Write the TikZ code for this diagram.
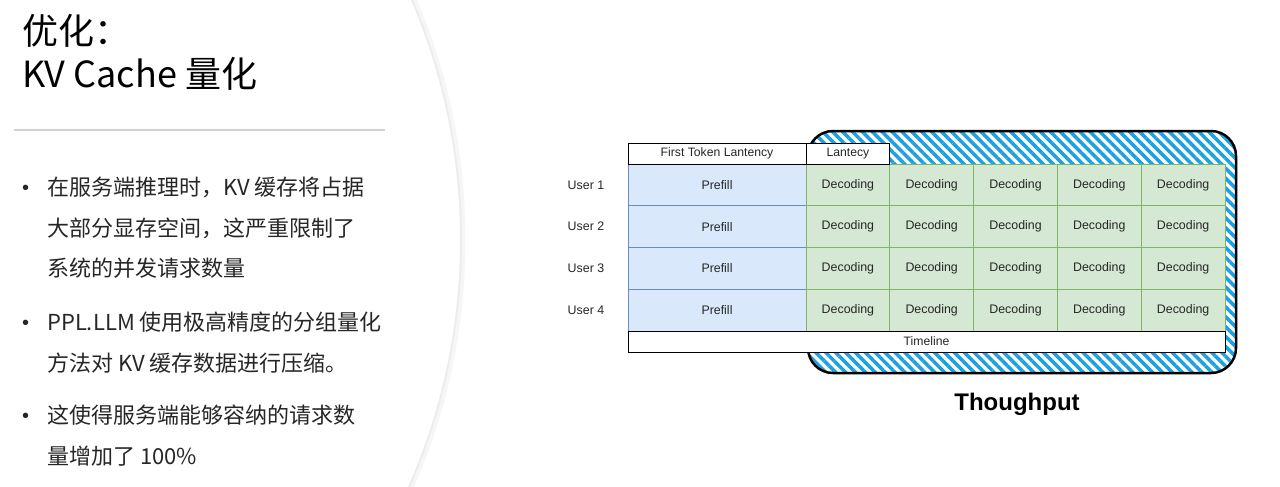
\documentclass[tikz,border=0pt]{standalone}
\usepackage{fontspec}
\setmainfont{Liberation Sans}
\newfontfamily\cjk{Noto Sans CJK SC}
\usetikzlibrary{patterns.meta}
\definecolor{prefillfill}{HTML}{DAE8FC}
\definecolor{prefillline}{HTML}{6C8EBF}
\definecolor{decodefill}{HTML}{D5E8D4}
\definecolor{decodeline}{HTML}{82B366}
\definecolor{stripeblue}{HTML}{1BA1E2}
\definecolor{bodytext}{HTML}{262626}
\tikzset{
  cell/.style={minimum height=41.75pt, inner sep=0pt, line width=1pt, text=black!85, font=\fontsize{12.4}{14}\selectfont},
  prefill/.style={cell, draw=prefillline, fill=prefillfill, minimum width=178pt},
  decode/.style={cell, draw=decodeline, fill=decodefill, minimum width=83.8pt},
  hdr/.style={cell, draw=black, fill=white, minimum height=21pt, font=\fontsize{12.2}{14}\selectfont},
  user/.style={cell, draw=none, fill=none},
  title/.style={anchor=base west, inner sep=0pt, font=\cjk\fontsize{36}{40}\selectfont},
  body/.style={anchor=base west, inner sep=0pt, text=bodytext, font=\cjk\fontsize{22}{26}\selectfont},
  dot/.style={body, font=\fontsize{20}{24}\selectfont},
}
\begin{document}
\begin{tikzpicture}[x=1pt,y=-1pt]
  \useasboundingbox (0,0) rectangle (1280,487);
  \begin{scope}
    \clip (0,0) rectangle (1280,487);
    \draw[gray!7, line width=5pt] (-150,240) circle[radius=613pt];
    \draw[gray!14, line width=2pt] (-150,240) circle[radius=611pt];
  \end{scope}
  \draw[gray!35, line width=2pt] (14,129.5) -- (385,129.5);
  \node[title] (t1) at (22,45) {优化：};
  \node[title] (t2) at (22,88) {KV Cache 量化};
  \foreach \y in {195,330,423}
    \node[dot] (b\y) at (22,\y-1) {•};
  \node[body] (l1) at (47,195) {在服务端推理时，KV 缓存将占据};
  \node[body] (l2) at (47,236) {大部分显存空间，这严重限制了};
  \node[body] (l3) at (47,276) {系统的并发请求数量};
  \node[body] (l4) at (47,330) {PPL.LLM 使用极高精度的分组量化};
  \node[body] (l5) at (47,371) {方法对 KV 缓存数据进行压缩。};
  \node[body] (l6) at (47,423) {这使得服务端能够容纳的请求数};
  \node[body] (l7) at (47,464) {量增加了 100\%};
  \node[draw, line width=2.5pt, rounded corners=25pt, minimum width=428pt, minimum height=242pt,
    pattern={Lines[angle=-45,distance=7pt,line width=3.5pt]}, pattern color=stripeblue] (tp) at (1022,252) {};
  \foreach \r in {1,...,4} {
    \pgfmathsetmacro\yc{164+41.75*(\r-0.5)}
    \node[user] (u\r) at (586,\yc) {User \r};
    \node[prefill] (p\r) at (717,\yc) {Prefill};
    \foreach \c in {1,...,5} {
      \pgfmathsetmacro\xc{806+83.8*(\c-0.5)}
      \node[decode] (d\r\c) at (\xc,\yc) {Decoding};
    }
  }
  \node[hdr, minimum width=178pt] (ftl) at (717,153.5) {First Token Lantency};
  \node[hdr, minimum width=83.8pt] (lat) at (847.9,153.5) {Lantecy};
  \node[hdr, minimum width=597pt] (tl) at (926.5,341.5) {Timeline};
  \node[font=\bfseries\fontsize{24}{28}\selectfont] (thr) at (1017,404) {Thoughput};
\end{tikzpicture}
\end{document}
